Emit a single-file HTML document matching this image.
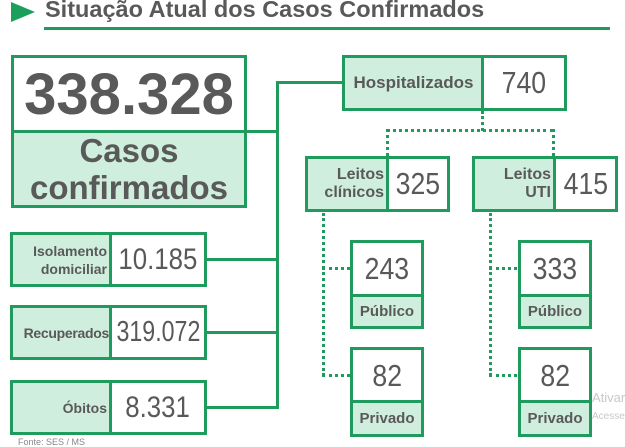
<!DOCTYPE html>
<html><head><style>
body{margin:0;width:625px;height:443px;background:#fff;overflow:hidden;position:relative;font-family:"Liberation Sans",sans-serif;color:#595959}
.a{position:absolute;box-sizing:border-box}
.b{border:3px solid #1f9b5e}
.f{background:#cfeedd}
.l{position:absolute;background:#1f9b5e}
.d{position:absolute;border-color:#1f9b5e;border-style:dotted;border-width:0}
.c{display:flex;align-items:center;justify-content:center;text-align:center}
.r{display:flex;align-items:center;justify-content:flex-end;text-align:right;padding-right:3px;font-weight:bold;font-size:15px;line-height:18px}
.n{font-size:31px}
.m{font-size:30px}
.n span,.m span{display:inline-block;transform:scaleX(0.86)}
</style></head><body>
<div class="a" style="left:11px;top:2px;width:0;height:0;border-left:24px solid #1aa05a;border-top:10px solid transparent;border-bottom:10px solid transparent"></div>
<div class="a" style="left:45px;top:-4px;font-size:23.5px;font-weight:bold;white-space:nowrap">Situação Atual dos Casos Confirmados</div>
<div class="l" style="left:44px;top:27px;width:566px;height:3px"></div>

<div class="a b" style="left:11px;top:55px;width:236px;height:153px"></div>
<div class="a c" style="left:14px;top:58px;width:230px;height:73px;font-size:58px;font-weight:bold">338.328</div>
<div class="a c f" style="left:14px;top:133px;width:230px;height:72px;font-size:33px;font-weight:bold;line-height:37px">Casos<br>confirmados</div>
<div class="l" style="left:14px;top:130px;width:230px;height:3px"></div>

<div class="l" style="left:246px;top:130px;width:32px;height:3px"></div>
<div class="l" style="left:276px;top:81px;width:3px;height:328px"></div>
<div class="l" style="left:276px;top:81px;width:67px;height:3px"></div>

<div class="a b" style="left:342px;top:55px;width:225px;height:56px"></div>
<div class="a c f" style="left:345px;top:58px;width:137px;height:50px;font-size:17px;font-weight:bold">Hospitalizados</div>
<div class="l" style="left:481px;top:58px;width:3px;height:50px"></div>
<div class="a c n" style="left:484px;top:58px;width:80px;height:50px"><span>740</span></div>

<div class="d" style="left:481px;top:111px;height:20px;border-left-width:3px"></div>
<div class="d" style="left:386px;top:129px;width:168px;border-top-width:3px"></div>
<div class="d" style="left:386px;top:129px;height:27px;border-left-width:3px"></div>
<div class="d" style="left:552px;top:129px;height:27px;border-left-width:3px"></div>

<div class="a b" style="left:305px;top:156px;width:145px;height:56px"></div>
<div class="a r f" style="left:308px;top:159px;width:79px;height:50px;font-size:16px">Leitos<br>clínicos</div>
<div class="l" style="left:386px;top:159px;width:3px;height:50px"></div>
<div class="a c n" style="left:389px;top:159px;width:58px;height:50px"><span>325</span></div>

<div class="a b" style="left:472px;top:156px;width:146px;height:56px"></div>
<div class="a r f" style="left:475px;top:159px;width:79px;height:50px;font-size:16px">Leitos<br>UTI</div>
<div class="l" style="left:553px;top:159px;width:3px;height:50px"></div>
<div class="a c n" style="left:556px;top:159px;width:59px;height:50px"><span>415</span></div>

<div class="d" style="left:322px;top:213px;height:163px;border-left-width:3px"></div>
<div class="d" style="left:322px;top:267px;width:28px;border-top-width:3px"></div>
<div class="d" style="left:322px;top:374px;width:28px;border-top-width:3px"></div>
<div class="d" style="left:489px;top:213px;height:163px;border-left-width:3px"></div>
<div class="d" style="left:489px;top:267px;width:28px;border-top-width:3px"></div>
<div class="d" style="left:489px;top:374px;width:28px;border-top-width:3px"></div>

<div class="a b" style="left:350px;top:240px;width:74px;height:89px"></div>
<div class="a c n" style="left:353px;top:243px;width:68px;height:52px"><span>243</span></div>
<div class="l" style="left:353px;top:294px;width:68px;height:3px"></div>
<div class="a c f" style="left:353px;top:297px;width:68px;height:29px;font-size:15px;font-weight:bold">Público</div>

<div class="a b" style="left:518px;top:240px;width:74px;height:89px"></div>
<div class="a c n" style="left:521px;top:243px;width:68px;height:52px"><span>333</span></div>
<div class="l" style="left:521px;top:294px;width:68px;height:3px"></div>
<div class="a c f" style="left:521px;top:297px;width:68px;height:29px;font-size:15px;font-weight:bold">Público</div>

<div class="a b" style="left:350px;top:347px;width:74px;height:90px"></div>
<div class="a c n" style="left:353px;top:350px;width:68px;height:51px"><span>82</span></div>
<div class="l" style="left:353px;top:400px;width:68px;height:3px"></div>
<div class="a c f" style="left:353px;top:403px;width:68px;height:31px;font-size:15px;font-weight:bold">Privado</div>

<div class="a b" style="left:518px;top:347px;width:74px;height:90px"></div>
<div class="a c n" style="left:521px;top:350px;width:68px;height:51px"><span>82</span></div>
<div class="l" style="left:521px;top:400px;width:68px;height:3px"></div>
<div class="a c f" style="left:521px;top:403px;width:68px;height:31px;font-size:15px;font-weight:bold">Privado</div>
<div class="a" style="left:592px;top:390px;font-size:13px;color:#c8c8c8">Ativar</div>
<div class="a" style="left:592px;top:411px;font-size:10px;color:#c8c8c8">Acesse</div>

<div class="a b" style="left:10px;top:232px;width:197px;height:55px"></div>
<div class="a r f" style="left:13px;top:235px;width:97px;height:49px;font-size:14px">Isolamento<br>domiciliar</div>
<div class="l" style="left:109px;top:235px;width:3px;height:49px"></div>
<div class="a c m" style="left:112px;top:235px;width:92px;height:49px"><span>10.185</span></div>

<div class="a b" style="left:10px;top:305px;width:197px;height:55px"></div>
<div class="a r f" style="left:13px;top:308px;width:97px;height:49px;padding-right:1px;font-size:14px;letter-spacing:-0.3px">Recuperados</div>
<div class="l" style="left:109px;top:308px;width:3px;height:49px"></div>
<div class="a c m" style="left:112px;top:308px;width:92px;height:49px;font-size:29px"><span style="transform:scaleX(0.8)">319.072</span></div>

<div class="a b" style="left:10px;top:380px;width:197px;height:55px"></div>
<div class="a r f" style="left:13px;top:383px;width:97px;height:49px;font-size:14px">Óbitos</div>
<div class="l" style="left:109px;top:383px;width:3px;height:49px"></div>
<div class="a c m" style="left:112px;top:383px;width:92px;height:49px"><span>8.331</span></div>

<div class="l" style="left:206px;top:258px;width:72px;height:3px"></div>
<div class="l" style="left:206px;top:331px;width:72px;height:3px"></div>
<div class="l" style="left:206px;top:406px;width:72px;height:3px"></div>
<div class="a" style="left:18px;top:437px;font-size:9px;color:#888">Fonte: SES / MS</div>
</body></html>
